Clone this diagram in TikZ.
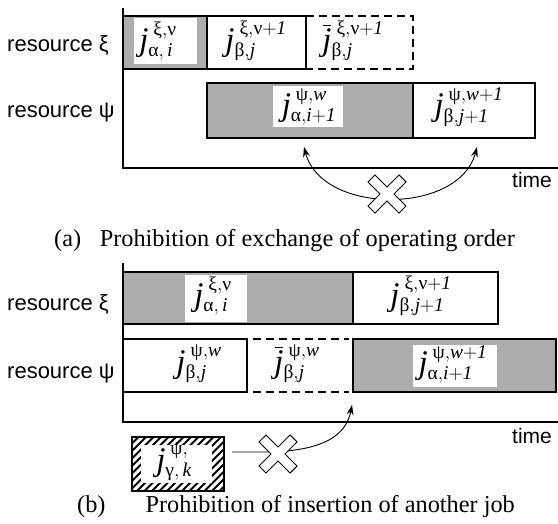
\RequirePackage{fix-cm}
\documentclass[tikz,border=0pt]{standalone}
\usepackage{amsmath}
\usepackage{fontspec}
\setmainfont{Liberation Serif}
\newfontfamily\labsans{Liberation Sans}
\usetikzlibrary{arrows.meta}
\DeclareMathSizes{33}{33}{19.5}{14}
\newcommand\Jl[2]{$\mathit{j}^{\kern5pt #1}_{#2}$}
\newcommand\Jb[2]{$\rlap{\kern0.5pt\rule[24.5pt]{8.5pt}{1.1pt}}\mathit{j}^{\kern5pt #1}_{#2}$}
\newcommand\T[1]{\text{#1}}
\newcommand\I[1]{\mathit{#1}}
\tikzset{
  ax/.style={line width=1.8pt},
  jbox/.style={line width=1.6pt},
  grayfill/.style={fill=black!32},
  whitepatch/.style={fill=white},
  dbox/.style={line width=1.6pt, dash pattern=on 8pt off 5pt},
  lab/.style={font=\fontsize{33}{33}\selectfont, inner sep=0pt},
  res/.style={font=\labsans\fontsize{22}{22}\selectfont, inner sep=0pt, anchor=base west},
  tim/.style={font=\labsans\fontsize{21}{21}\selectfont, inner sep=0pt, anchor=base},
  captext/.style={font=\fontsize{24.3}{24.3}\selectfont, inner sep=0pt},
  arr/.style={line width=0.9pt, -{Stealth[length=10pt,width=7pt]}},
  nocross/.pic={\draw[line width=0.9pt, fill=white, rotate=45]
     (-5,-22) -- (5,-22) -- (5,-5) -- (22,-5) -- (22,5) -- (5,5) -- (5,22)
     -- (-5,22) -- (-5,5) -- (-22,5) -- (-22,-5) -- (-5,-5) -- cycle;}
}
\begin{document}
\begin{tikzpicture}[x=1pt,y=-1pt]
\useasboundingbox (0,0) rectangle (558,524);
% ---------------- (a) ----------------
\draw[ax] (123,8) -- (123,168) -- (558,168);
\node[res] (ra1) at (7,51.7) {resource ξ};
\node[res] (ra2) at (7,117.5) {resource ψ};
\node[tim] (ta) at (532,188) {time};
% row xi
\draw[jbox, grayfill] (123,16) rectangle (207,69);
\fill[whitepatch] (134,18.5) rectangle (197,64);
\draw[jbox] (207,16) rectangle (306,69);
\draw[dbox] (306,16) -- (413,16) -- (413,69) -- (306,69);
\node[lab] (a1) at (158,41) {\Jl{\T{ξ},\T{ν}}{\T{α},\,\I{i}}};
\node[lab] (a2) at (256,41) {\Jl{\T{ξ},\T{ν}+\I{1}}{\T{β},\I{j}}};
\node[lab] (a3) at (353,41) {\Jb{\T{ξ},\T{ν}+\I{1}}{\T{β},\I{j}}};
% row psi
\draw[jbox, grayfill] (207,83) rectangle (413,138);
\fill[whitepatch] (273,86) rectangle (343,127);
\draw[jbox] (413,83) rectangle (535,138);
\node[lab] (b1) at (309,107) {\Jl{\T{ψ},\I{w}}{\T{α},\I{i}+\I{1}}};
\node[lab] (b2) at (469,107) {\Jl{\T{ψ},\I{w}+\I{1}}{\T{β},\I{j}+\I{1}}};
% exchange arrows
\coordinate (ea) at (304,147);
\coordinate (eb) at (477,147);
\draw[arr, {Stealth[length=10pt,width=7pt]}-{Stealth[length=10pt,width=7pt]}]
  (ea) .. controls (322,215) and (459,215) .. (eb);
\pic at (387,194) {nocross};
\node[captext, anchor=base west] (capa1) at (54,247) {(a)};
\node[captext, anchor=base east] (capa2) at (515,247) {Prohibition of exchange of operating order};
% ---------------- (b) ----------------
\draw[ax] (123,263) -- (123,422) -- (558,422);
\node[res] (rb1) at (7,311) {resource ξ};
\node[res] (rb2) at (7,378) {resource ψ};
\node[tim] (tb) at (532,443) {time};
% row xi
\draw[jbox, grayfill] (123,272) rectangle (353,324);
\fill[whitepatch] (185,275) rectangle (247,322);
\draw[jbox] (353,272) rectangle (498,324);
\node[lab] (c1) at (213,296) {\Jl{\T{ξ},\T{ν}}{\T{α},\,\I{i}}};
\node[lab] (c2) at (421,296) {\Jl{\T{ξ},\T{ν}+\I{1}}{\T{β},\I{j}+\I{1}}};
% row psi
\draw[jbox] (123,339) rectangle (247,392);
\draw[dbox] (253,339) -- (349,339);
\draw[dbox] (253,392) -- (349,392);
\draw[jbox, grayfill] (353,339) rectangle (556,392);
\fill[whitepatch] (413,345) rectangle (497,387);
\node[lab] (d1) at (199,364) {\Jl{\T{ψ},\I{w}}{\T{β},\I{j}}};
\node[lab] (d2) at (297,364) {\Jb{\T{ψ},\I{w}}{\T{β},\I{j}}};
\node[lab] (d3) at (453,364) {\Jl{\T{ψ},\I{w}+\I{1}}{\T{α},\I{i}+\I{1}}};
% hatched job
\node[draw, line width=2.8pt, minimum width=92pt, minimum height=54pt, inner sep=0pt,
  path picture={\foreach \k in {0,...,24}{
     \draw[line width=2pt] ([xshift=\k*7.5pt-70pt]path picture bounding box.south west)
        -- ++(70pt,70pt);}
     \fill[white] ([xshift=9pt,yshift=8pt]path picture bounding box.south west)
        rectangle ([xshift=-12pt,yshift=-8pt]path picture bounding box.north east);}]
  (hb) at (178,464) {};
\node[lab] (h) at (174,462) {\Jl{\T{ψ},}{\T{γ},\,\I{k}}};
\coordinate (hs) at (232,452);
\coordinate (ht) at (352,405);
\draw[arr] (hs) -- (262,452) .. controls (322,452) and (346,436) .. (ht);
\pic at (278,454) {nocross};
\node[captext, anchor=base west] (capb1) at (77,512) {(b)};
\node[captext, anchor=base east] (capb2) at (515,512) {Prohibition of insertion of another job};
\end{tikzpicture}
\end{document}
